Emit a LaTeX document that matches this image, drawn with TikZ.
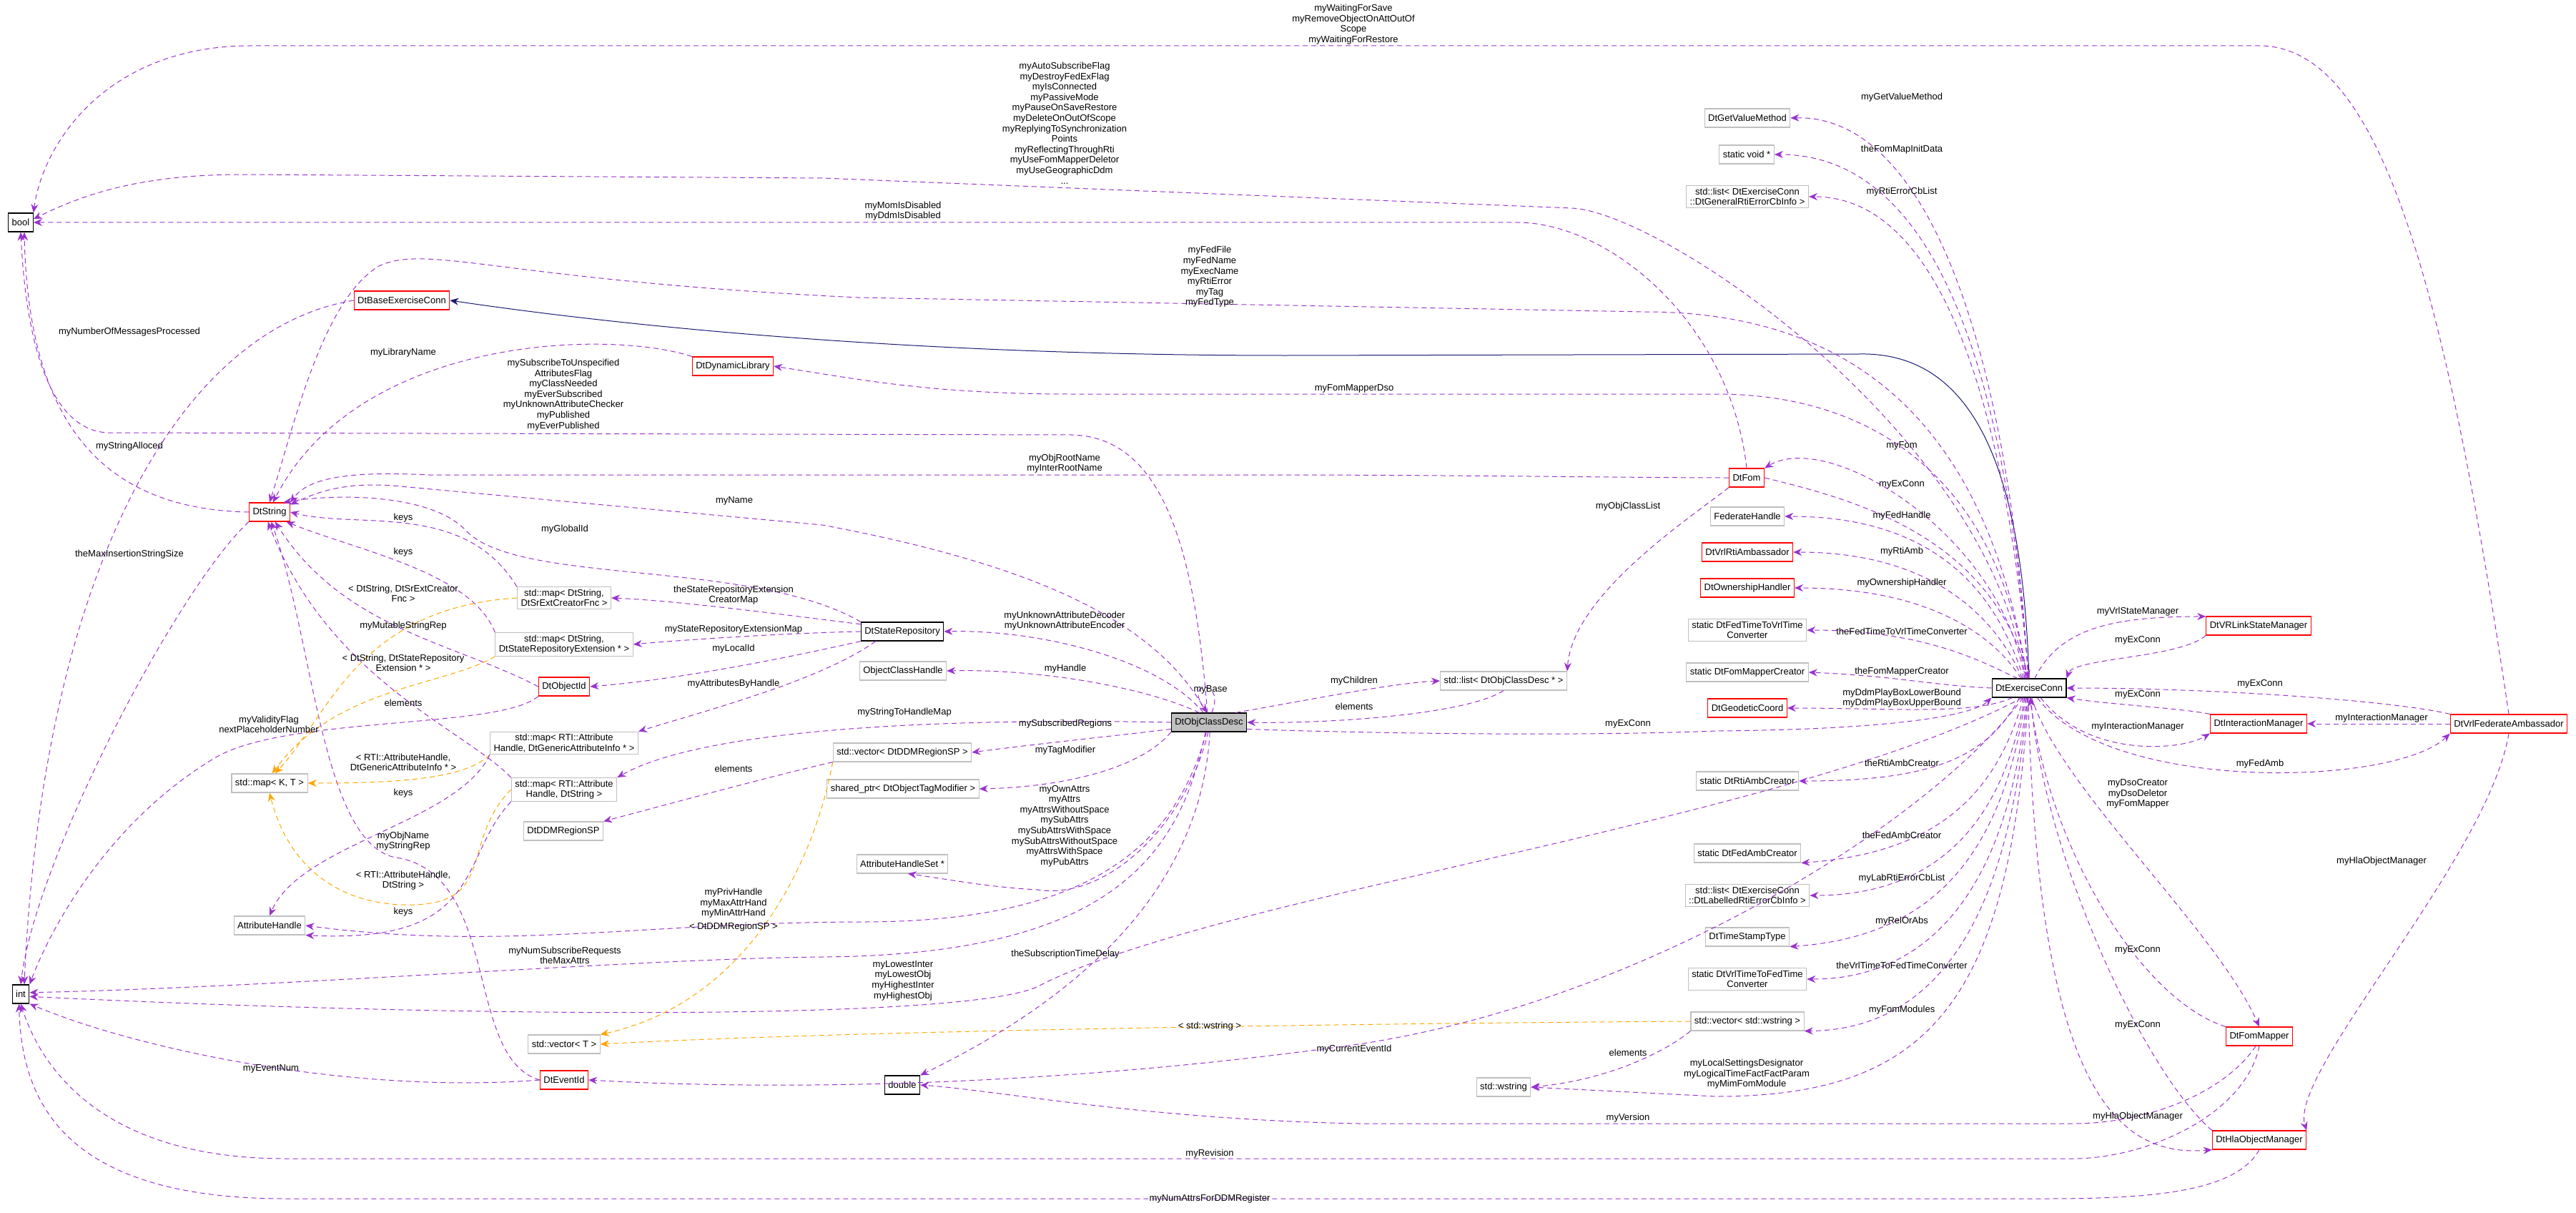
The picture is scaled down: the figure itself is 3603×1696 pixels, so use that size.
\documentclass[tikz,border=0pt]{standalone}
\usepackage{fontspec}
\setmainfont{Liberation Sans}
\usetikzlibrary{arrows.meta}
\definecolor{relc}{HTML}{9A32CD}
\definecolor{tplc}{HTML}{FFA500}
\definecolor{inhc}{HTML}{191970}
\definecolor{boxg}{HTML}{BFBFBF}
\tikzstyle{cls}  = [draw=boxg, line width=1.1pt, minimum height=26pt, inner xsep=5pt, inner ysep=3pt, align=center, fill=white]
\tikzstyle{red}  = [cls, draw=red]
\tikzstyle{blk}  = [cls, draw=black]
\tikzstyle{rel}  = [relc, line width=1pt, dash pattern=on 7pt off 5pt, -{Stealth[length=12pt,width=10pt]}]
\tikzstyle{tpl}  = [rel, tplc]
\tikzstyle{lbl}  = [align=center, inner sep=1pt]

\begin{document}
\begin{tikzpicture}[x=1pt, y=-1pt, font=\fontsize{13}{14.6}\selectfont]
		\useasboundingbox (0,0) rectangle (3603,1696);

		% classes, left part
		\node[blk] (bool) at (29,311) {bool};
		\node[blk] (int) at (29,1390) {int};
		\node[red] (dbec) at (562,420) {DtBaseExerciseConn};
		\node[red] (dynlib) at (1025,512) {DtDynamicLibrary};
		\node[red] (dtstring) at (377,716) {DtString};
		\node[cls] (mapsr) at (789,836) {std::map\textless{} DtString,\\DtSrExtCreatorFnc \textgreater};
		\node[cls] (mapst) at (789,901) {std::map\textless{} DtString,\\DtStateRepositoryExtension * \textgreater};
		\node[red] (objid) at (789,960) {DtObjectId};
		\node[cls] (mapga) at (789,1039) {std::map\textless{} RTI::Attribute\\Handle, DtGenericAttributeInfo * \textgreater};
		\node[cls] (mapkt) at (377,1095) {std::map\textless{} K, T \textgreater};
		\node[cls] (maprs) at (789,1104) {std::map\textless{} RTI::Attribute\\Handle, DtString \textgreater};
		\node[cls] (ddmsp) at (788,1162) {DtDDMRegionSP};
		\node[cls] (attrh) at (377,1294) {AttributeHandle};
		\node[cls] (vect) at (789,1460) {std::vector\textless{} T \textgreater};
		\node[red] (eventid) at (789,1510) {DtEventId};

		% classes, middle part
		\node[blk] (staterep) at (1262,883) {DtStateRepository};
		\node[cls] (och) at (1263,938) {ObjectClassHandle};
		\node[blk, fill=boxg] (ocd) at (1691,1010) {DtObjClassDesc};
		\node[cls] (stdlist) at (2103,952) {std::list\textless{} DtObjClassDesc * \textgreater};
		\node[cls] (vecddm) at (1262,1052) {std::vector\textless{} DtDDMRegionSP \textgreater};
		\node[cls] (shptr) at (1263,1103) {shared\_ptr\textless{} DtObjectTagModifier \textgreater};
		\node[cls] (ahset) at (1262,1208) {AttributeHandleSet *};
		\node[blk] (dbl) at (1262,1517) {double};
		\node[cls] (wstring) at (2103,1520) {std::wstring};

		% classes, right part
		\node[cls] (getval) at (2444,165) {DtGetValueMethod};
		\node[cls] (svoid) at (2443,216) {static void *};
		\node[cls] (listgen) at (2444,275) {std::list\textless{} DtExerciseConn\\::DtGeneralRtiErrorCbInfo \textgreater};
		\node[red] (dtfom) at (2443,668) {DtFom};
		\node[cls] (fedh) at (2444,722) {FederateHandle};
		\node[red] (rtiamb) at (2444,772) {DtVrlRtiAmbassador};
		\node[red] (ownh) at (2444,822) {DtOwnershipHandler};
		\node[cls] (fedtime) at (2444,881) {static DtFedTimeToVrlTime\\Converter};
		\node[cls] (fmcreator) at (2444,940) {static DtFomMapperCreator};
		\node[red] (geoc) at (2444,990) {DtGeodeticCoord};
		\node[cls] (rtiambc) at (2444,1092) {static DtRtiAmbCreator};
		\node[cls] (fedambc) at (2444,1193) {static DtFedAmbCreator};
		\node[cls] (listlab) at (2444,1252) {std::list\textless{} DtExerciseConn\\::DtLabelledRtiErrorCbInfo \textgreater};
		\node[cls] (tstype) at (2444,1310) {DtTimeStampType};
		\node[cls] (vrltime) at (2444,1369) {static DtVrlTimeToFedTime\\Converter};
		\node[cls] (vecws) at (2444,1428) {std::vector\textless{} std::wstring \textgreater};
		\node[blk] (exconn) at (2838,962) {DtExerciseConn};
		\node[red] (vrlsm) at (3159,875) {DtVRLinkStateManager};
		\node[red] (im) at (3159,1012) {DtInteractionManager};
		\node[red] (vfa) at (3509,1012) {DtVrlFederateAmbassador};
		\node[red] (fommapper) at (3160,1449) {DtFomMapper};
		\node[red] (hla) at (3160,1594) {DtHlaObjectManager};

		% inheritance
		\draw[inhc, line width=1pt, -{Stealth[length=12pt,width=10pt]}] (exconn.north) .. controls (2830,700) and (2780,491) .. (2600,495) -- (1800,497) .. controls (1300,497) and (900,460) .. (dbec.east);

		% members of type bool and int
		\draw[rel] (vfa.north) .. controls (3420,400) and (3330,64) .. (3160,64) -- (350,64) .. controls (150,64) and (60,200) .. (bool.north east);
		\draw[rel] (exconn.110) .. controls (2780,600) and (2320,295) .. (2198,291) -- (1150,249) -- (340,244) .. controls (200,244) and (120,270) .. (bool.15);
		\draw[rel] (dtfom.north) .. controls (2420,450) and (2250,311) .. (2122,311) -- (bool.east);
		\draw[rel] (ocd.100) .. controls (1670,750) and (1620,612) .. (1500,608) -- (150,605) .. controls (60,600) and (35,450) .. (bool.south);
		\draw[rel] (dtstring.west) .. controls (150,712) and (40,600) .. (bool.290);
		\draw[rel] (dbec.west) .. controls (250,460) and (60,800) .. (int.70);
		\draw[rel] (dtstring.south west) .. controls (250,820) and (50,1200) .. (int.north);
		\draw[rel] (objid.south west) .. controls (700,1020) and (400,1000) .. (300,1060) .. controls (150,1150) and (70,1300) .. (int.north east);
		\draw[rel] (ocd.250) .. controls (1650,1200) and (1550,1335) .. (1150,1338) .. controls (900,1340) and (400,1380) .. (int.10);
		\draw[rel] (exconn.235) .. controls (2500,1150) and (1700,1250) .. (1450,1380) .. controls (1350,1425) and (700,1425) .. (int.345);
		\draw[rel] (eventid.west) .. controls (500,1530) and (200,1470) .. (int.south east);
		\draw[rel] (fommapper.south) .. controls (3140,1560) and (3000,1620) .. (2900,1620) -- (400,1620) .. controls (150,1620) and (60,1500) .. (int.south);
		\draw[rel] (hla.south) .. controls (3120,1680) and (2950,1676) .. (2800,1676) -- (400,1676) .. controls (100,1676) and (30,1550) .. (int.260);
		\draw[rel] (fommapper.250) .. controls (3110,1530) and (3000,1571) .. (2900,1571) -- (1900,1571) .. controls (1600,1565) and (1400,1525) .. (dbl.east);

		% members of type DtString
		\draw[rel] (exconn.100) .. controls (2780,600) and (2600,436) .. (2300,436) -- (1200,416) .. controls (700,392) and (600,340) .. (530,372) .. controls (450,420) and (410,600) .. (dtstring.north);
		\draw[rel] (dtfom.west) .. controls (2300,668) and (2000,664) .. (1800,664) -- (600,664) .. controls (480,658) and (430,670) .. (dtstring.north east);
		\draw[rel] (ocd.105) .. controls (1620,870) and (1450,790) .. (1150,734) -- (560,680) .. controls (480,672) and (440,690) .. (dtstring.20);
		\draw[rel] (dynlib.north west) .. controls (850,460) and (500,470) .. (dtstring.70);
		\draw[rel] (mapsr.north west) .. controls (650,700) and (500,740) .. (dtstring.east);
		\draw[rel] (mapst.north west) .. controls (660,800) and (500,770) .. (dtstring.-30);
		\draw[rel] (objid.west) .. controls (640,900) and (480,880) .. (dtstring.-60);
		\draw[rel] (staterep.north west) .. controls (1050,780) and (720,820) .. (650,740) .. controls (600,690) and (470,690) .. (dtstring.35);
		\draw[rel] (eventid.west) .. controls (650,1480) and (700,1230) .. (560,1200) .. controls (450,1190) and (440,900) .. (dtstring.-80);
		\draw[rel] (maprs.north west) .. controls (650,1020) and (460,950) .. (dtstring.-100);

		% template instances
		\draw[tpl] (mapsr.west) .. controls (500,850) and (460,1000) .. (mapkt.60);
		\draw[tpl] (mapst.south west) .. controls (620,960) and (470,960) .. (mapkt.75);
		\draw[tpl] (mapga.south west) .. controls (650,1090) and (550,1095) .. (mapkt.east);
		\draw[tpl] (maprs.west) .. controls (640,1180) and (700,1270) .. (560,1265) .. controls (460,1260) and (400,1200) .. (mapkt.south);
		\draw[tpl] (vecddm.south west) .. controls (1140,1200) and (1050,1400) .. (vect.north east);
		\draw[tpl] (vecws.west) .. controls (2000,1430) and (1200,1440) .. (vect.east);

		% containers and repository
		\draw[rel] (mapga.south west) .. controls (640,1150) and (420,1180) .. (attrh.north);
		\draw[rel] (maprs.south west) .. controls (640,1200) and (680,1320) .. (attrh.south east);
		\draw[rel] (vecddm.south west) .. controls (1100,1080) and (950,1120) .. (ddmsp.north east);
		\draw[rel] (staterep.170) .. controls (1100,860) and (950,840) .. (mapsr.east);
		\draw[rel] (staterep.west) .. controls (1100,885) and (950,895) .. (mapst.east);
		\draw[rel] (staterep.south west) .. controls (1100,920) and (950,950) .. (objid.east);
		\draw[rel] (staterep.-160) .. controls (1150,950) and (1000,990) .. (mapga.north east);

		% members of DtObjClassDesc
		\draw[rel] (ocd.120) .. controls (1620,920) and (1450,880) .. (staterep.east);
		\draw[rel] (ocd.135) .. controls (1600,960) and (1450,935) .. (och.east);
		\draw[rel] (ocd.75) .. controls (1715,950) and (1655,950) .. (ocd.100);
		\draw[rel] (ocd.20) .. controls (1850,975) and (1950,955) .. (stdlist.west);
		\draw[rel] (stdlist.south) .. controls (2050,1000) and (1850,1012) .. (ocd.east);
		\draw[rel] (ocd.west) .. controls (1400,1005) and (1000,1010) .. (maprs.north east);
		\draw[rel] (ocd.190) .. controls (1550,1030) and (1450,1040) .. (vecddm.east);
		\draw[rel] (ocd.south west) .. controls (1600,1070) and (1500,1100) .. (shptr.east);
		\draw[rel] (ocd.265) .. controls (1660,1150) and (1550,1260) .. (1450,1244) .. controls (1380,1240) and (1330,1230) .. (ahset.-60);
		\draw[rel] (ocd.255) .. controls (1640,1200) and (1500,1290) .. (1200,1289) .. controls (900,1290) and (700,1330) .. (attrh.east);
		\draw[rel] (ocd.275) .. controls (1680,1250) and (1500,1400) .. (dbl.north east);
		\draw[rel] (ocd.-10) .. controls (1900,1025) and (2200,1030) .. (2400,1022) .. controls (2650,1020) and (2760,1000) .. (exconn.south west);
		\draw[rel] (dtfom.south west) .. controls (2370,720) and (2200,830) .. (stdlist.north east);

		% members of DtExerciseConn
		\draw[rel] (exconn.95) .. controls (2810,500) and (2700,160) .. (getval.east);
		\draw[rel] (exconn.93) .. controls (2805,500) and (2700,216) .. (svoid.east);
		\draw[rel] (exconn.91) .. controls (2800,520) and (2700,275) .. (listgen.east);
		\draw[rel] (exconn.105) .. controls (2800,700) and (2650,551) .. (2400,551) -- (1500,551) .. controls (1300,551) and (1200,530) .. (dynlib.east);
		\draw[rel] (exconn.115) .. controls (2800,750) and (2560,600) .. (dtfom.north east);
		\draw[rel] (dtfom.east) .. controls (2600,700) and (2780,750) .. (exconn.north);
		\draw[rel] (exconn.120) .. controls (2790,820) and (2700,722) .. (fedh.east);
		\draw[rel] (exconn.125) .. controls (2790,860) and (2700,772) .. (rtiamb.east);
		\draw[rel] (exconn.130) .. controls (2790,890) and (2700,822) .. (ownh.east);
		\draw[rel] (exconn.140) .. controls (2780,930) and (2700,881) .. (fedtime.east);
		\draw[rel] (exconn.west) .. controls (2700,958) and (2650,945) .. (fmcreator.east);
		\draw[rel] (exconn.210) .. controls (2760,1000) and (2650,990) .. (geoc.east);
		\draw[rel] (exconn.225) .. controls (2780,1060) and (2700,1092) .. (rtiambc.east);
		\draw[rel] (exconn.240) .. controls (2790,1120) and (2700,1193) .. (fedambc.south east);
		\draw[rel] (exconn.245) .. controls (2800,1160) and (2700,1252) .. (listlab.east);
		\draw[rel] (exconn.250) .. controls (2800,1200) and (2700,1310) .. (tstype.south east);
		\draw[rel] (exconn.255) .. controls (2810,1240) and (2700,1369) .. (vrltime.east);
		\draw[rel] (exconn.260) .. controls (2810,1300) and (2700,1440) .. (vecws.south east);
		\draw[rel] (exconn.265) .. controls (2810,1400) and (2700,1533) .. (2400,1533) -- (wstring.east);
		\draw[rel] (vecws.south west) .. controls (2330,1470) and (2250,1510) .. (wstring.east);
		\draw[rel] (exconn.238) .. controls (2700,1150) and (2300,1400) .. (1900,1460) .. controls (1400,1530) and (1000,1520) .. (eventid.east);

		% right hand managers
		\draw[rel] (exconn.60) .. controls (2880,880) and (2950,862) .. (vrlsm.170);
		\draw[rel] (vrlsm.south west) .. controls (3050,920) and (2900,920) .. (exconn.north east);
		\draw[rel] (vfa.north west) .. controls (3350,980) and (3100,962) .. (exconn.east);
		\draw[rel] (im.north west) .. controls (3050,990) and (2950,985) .. (exconn.south east);
		\draw[rel] (exconn.-40) .. controls (2920,1060) and (3050,1050) .. (im.south west);
		\draw[rel] (vfa.west) -- (im.east);
		\draw[rel] (exconn.-50) .. controls (2950,1110) and (3350,1100) .. (vfa.south west);
		\draw[rel] (vfa.south) .. controls (3480,1200) and (3200,1500) .. (hla.north east);
		\draw[rel] (exconn.-75) .. controls (2880,1100) and (3100,1300) .. (fommapper.north);
		\draw[rel] (fommapper.north west) .. controls (3000,1400) and (2870,1200) .. (exconn.-85);
		\draw[rel] (hla.north west) .. controls (3000,1500) and (2860,1200) .. (exconn.-80);
		\draw[rel] (exconn.-95) .. controls (2850,1500) and (2950,1620) .. (hla.south west);

		% labels
		\node[lbl] (tWait) at (1893,34) {myWaitingForSave\\myRemoveObjectOnAttOutOf\\Scope\\myWaitingForRestore};
		\node[lbl] (tAuto) at (1489,172) {myAutoSubscribeFlag\\myDestroyFedExFlag\\myIsConnected\\myPassiveMode\\myPauseOnSaveRestore\\myDeleteOnOutOfScope\\myReplyingToSynchronization\\Points\\myReflectingThroughRti\\myUseFomMapperDeletor\\myUseGeographicDdm\\...};
		\node[lbl] (tMom) at (1263,295) {myMomIsDisabled\\myDdmIsDisabled};
		\node[lbl] (tFedFile) at (1692,387) {myFedFile\\myFedName\\myExecName\\myRtiError\\myTag\\myFedType};
		\node[lbl] (tMsgs) at (181,464) {myNumberOfMessagesProcessed};
		\node[lbl] (tLib) at (564,493) {myLibraryName};
		\node[lbl] (tFlags) at (788,552) {mySubscribeToUnspecified\\AttributesFlag\\myClassNeeded\\myEverSubscribed\\myUnknownAttributeChecker\\myPublished\\myEverPublished};
		\node[lbl] (tDso) at (1894,543) {myFomMapperDso};
		\node[lbl] (tAlloc) at (181,624) {myStringAlloced};
		\node[lbl] (tRoot) at (1489,648) {myObjRootName\\myInterRootName};
		\node[lbl] (tName) at (1027,700) {myName};
		\node[lbl] (tObjList) at (2277,708) {myObjClassList};
		\node[lbl] (tKeys1) at (564,724) {keys};
		\node[lbl] (tGlobal) at (790,740) {myGlobalId};
		\node[lbl] (tKeys2) at (564,772) {keys};
		\node[lbl] (tMaxIns) at (181,775) {theMaxInsertionStringSize};
		\node[lbl] (tSrTpl) at (564,830) {\textless{} DtString, DtSrExtCreator\\Fnc \textgreater};
		\node[lbl] (tCreatorMap) at (1026,832) {theStateRepositoryExtension\\CreatorMap};
		\node[lbl] (tDecoder) at (1489,868) {myUnknownAttributeDecoder\\myUnknownAttributeEncoder};
		\node[lbl] (tMutable) at (564,875) {myMutableStringRep};
		\node[lbl] (tExtMap) at (1026,880) {myStateRepositoryExtensionMap};
		\node[lbl] (tLocal) at (1026,907) {myLocalId};
		\node[lbl] (tStTpl) at (564,927) {\textless{} DtString, DtStateRepository\\Extension * \textgreater};
		\node[lbl] (tHandle) at (1490,935) {myHandle};
		\node[lbl] (tChildren) at (1894,952) {myChildren};
		\node[lbl] (tByHandle) at (1026,956) {myAttributesByHandle};
		\node[lbl] (tBase) at (1693,964) {myBase};
		\node[lbl] (tElem1) at (564,983) {elements};
		\node[lbl] (tElem2) at (1894,988) {elements};
		\node[lbl] (tStrMap) at (1265,996) {myStringToHandleMap};
		\node[lbl] (tSubReg) at (1490,1012) {mySubscribedRegions};
		\node[lbl] (tOcdEx) at (2277,1012) {myExConn};
		\node[lbl] (tValid) at (376,1013) {myValidityFlag\\nextPlaceholderNumber};
		\node[lbl] (tTag) at (1490,1049) {myTagModifier};
		\node[lbl] (tGaTpl) at (564,1066) {\textless{} RTI::AttributeHandle,\\DtGenericAttributeInfo * \textgreater};
		\node[lbl] (tElem3) at (1026,1075) {elements};
		\node[lbl] (tKeys3) at (564,1109) {keys};
		\node[lbl] (tOwnAttrs) at (1489,1155) {myOwnAttrs\\myAttrs\\myAttrsWithoutSpace\\mySubAttrs\\mySubAttrsWithSpace\\mySubAttrsWithoutSpace\\myAttrsWithSpace\\myPubAttrs};
		\node[lbl] (tObjName) at (564,1176) {myObjName\\myStringRep};
		\node[lbl] (tRsTpl) at (564,1231) {\textless{} RTI::AttributeHandle,\\DtString \textgreater};
		\node[lbl] (tPriv) at (1026,1263) {myPrivHandle\\myMaxAttrHand\\myMinAttrHand};
		\node[lbl] (tDdmTpl) at (1026,1296) {\textless{} DtDDMRegionSP \textgreater};
		\node[lbl] (tKeys4) at (564,1275) {keys};
		\node[lbl] (tDelay) at (1490,1334) {theSubscriptionTimeDelay};
		\node[lbl] (tNumSub) at (790,1336) {myNumSubscribeRequests\\theMaxAttrs};
		\node[lbl] (tLowest) at (1263,1371) {myLowestInter\\myLowestObj\\myHighestInter\\myHighestObj};
		\node[lbl] (tWsTpl) at (1692,1435) {\textless{} std::wstring \textgreater};
		\node[lbl] (tEventId) at (1894,1467) {myCurrentEventId};
		\node[lbl] (tElem4) at (2277,1472) {elements};
		\node[lbl] (tEventNum) at (379,1494) {myEventNum};
		\node[lbl] (tVersion) at (2277,1563) {myVersion};
		\node[lbl] (tRevision) at (1692,1613) {myRevision};
		\node[lbl] (tNumAttrs) at (1692,1676) {myNumAttrsForDDMRegister};

		\node[lbl] (tGetVal) at (2660,136) {myGetValueMethod};
		\node[lbl] (tInitData) at (2660,209) {theFomMapInitData};
		\node[lbl] (tErrList) at (2660,268) {myRtiErrorCbList};
		\node[lbl] (tFom) at (2660,623) {myFom};
		\node[lbl] (tFomEx) at (2660,677) {myExConn};
		\node[lbl] (tFedH) at (2660,721) {myFedHandle};
		\node[lbl] (tRtiAmb) at (2660,771) {myRtiAmb};
		\node[lbl] (tOwn) at (2660,815) {myOwnershipHandler};
		\node[lbl] (tFedTime) at (2660,883) {theFedTimeToVrlTimeConverter};
		\node[lbl] (tFmCreator) at (2660,939) {theFomMapperCreator};
		\node[lbl] (tPlayBox) at (2660,976) {myDdmPlayBoxLowerBound\\myDdmPlayBoxUpperBound};
		\node[lbl] (tRtiAmbC) at (2660,1067) {theRtiAmbCreator};
		\node[lbl] (tFedAmbC) at (2660,1168) {theFedAmbCreator};
		\node[lbl] (tLabList) at (2660,1228) {myLabRtiErrorCbList};
		\node[lbl] (tRelAbs) at (2660,1288) {myRelOrAbs};
		\node[lbl] (tVrlTime) at (2660,1350) {theVrlTimeToFedTimeConverter};
		\node[lbl] (tModules) at (2660,1412) {myFomModules};
		\node[lbl] (tLocalSet) at (2443,1502) {myLocalSettingsDesignator\\myLogicalTimeFactFactParam\\myMimFomModule};
		\node[lbl] (tVrlSm) at (2990,855) {myVrlStateManager};
		\node[lbl] (tSmEx) at (2990,895) {myExConn};
		\node[lbl] (tVfaEx) at (3161,956) {myExConn};
		\node[lbl] (tImEx) at (2990,971) {myExConn};
		\node[lbl] (tVfaIm) at (3331,1004) {myInteractionManager};
		\node[lbl] (tIm) at (2990,1016) {myInteractionManager};
		\node[lbl] (tFedAmb) at (3161,1068) {myFedAmb};
		\node[lbl] (tDsoC) at (2990,1110) {myDsoCreator\\myDsoDeletor\\myFomMapper};
		\node[lbl] (tVfaHla) at (3331,1204) {myHlaObjectManager};
		\node[lbl] (tFmEx) at (2990,1328) {myExConn};
		\node[lbl] (tHlaEx) at (2990,1433) {myExConn};
		\node[lbl] (tHla) at (2990,1561) {myHlaObjectManager};
	\end{tikzpicture}
\end{document}
